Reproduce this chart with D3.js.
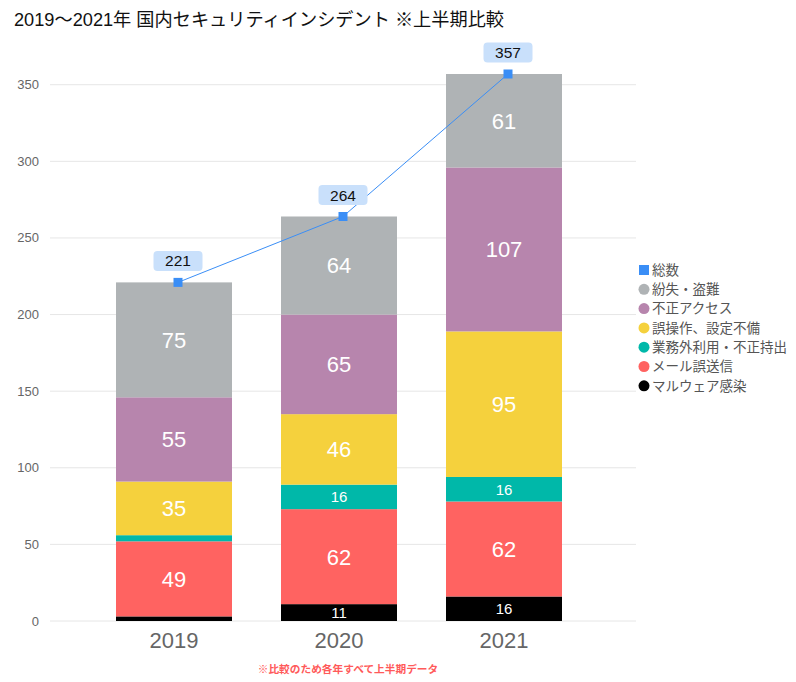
<!DOCTYPE html>
<html>
<head>
<meta charset="utf-8">
<script src="https://cdn.jsdelivr.net/npm/d3@7"></script>
<style>
  body { margin: 0; background: #fff; }
  svg { font-family: "Liberation Sans", Arial, "Noto Sans CJK JP", sans-serif; }
</style>
</head>
<body>
<div id="chart"></div>
<script>
// Data
const years = ['2019', '2020', '2021']
const seriesNames = ['マルウェア感染', 'メール誤送信', '業務外利用・不正持出', '誤操作、設定不備', '不正アクセス', '紛失・盗難']
const seriesColors = ['#000000', '#ff6361', '#00b8a9', '#f5d13d', '#b785ad', '#afb3b5']
const malware = [3, 11, 16]
const mailMisdelivery = [49, 62, 62]
const misuse = [4, 16, 16]
const misoperation = [35, 46, 95]
const unauthorized = [55, 65, 107]
const lossTheft = [75, 64, 61]
const totals = [221, 264, 357]
const yTicks = [0, 50, 100, 150, 200, 250, 300, 350]

const seriesValues = [malware, mailMisdelivery, misuse, misoperation, unauthorized, lossTheft]

// Dimensions
const dimensions = { width: 796, height: 682, left: 50, right: 636, top: 74, bottom: 621 }

const svg = d3.select('#chart')
  .append('svg')
  .attr('width', dimensions.width)
  .attr('height', dimensions.height)

// Title
svg.append('text')
  .attr('x', 14)
  .attr('y', 26)
  .attr('font-size', 18.2)
  .attr('fill', '#111')
  .text('2019～2021年 国内セキュリティインシデント ※上半期比較')

// Scales
const yScale = d3.scaleLinear()
  .domain([0, 357])
  .range([dimensions.bottom, dimensions.top])

const xScale = d3.scaleBand()
  .domain(years)
  .range([91.5, 586.5])
  .paddingInner(0.297)
  .paddingOuter(0.1485)

// Grid
const grid = svg.append('g')
grid.selectAll('line')
  .data(yTicks)
  .join('line')
  .attr('x1', dimensions.left)
  .attr('x2', dimensions.right)
  .attr('y1', d => yScale(d))
  .attr('y2', d => yScale(d))
  .attr('stroke', '#e6e6e6')
  .attr('stroke-width', 1)

grid.selectAll('text')
  .data(yTicks)
  .join('text')
  .attr('x', 39)
  .attr('y', d => yScale(d))
  .attr('dy', '0.35em')
  .attr('text-anchor', 'end')
  .attr('font-size', 13)
  .attr('fill', '#666')
  .text(d => d)

// Stack
const table = years.map((y, i) => {
  const row = { year: y }
  seriesNames.forEach((s, j) => { row[s] = seriesValues[j][i] })
  return row
})

const stackData = d3.stack().keys(seriesNames)(table)

const colorScale = d3.scaleOrdinal()
  .domain(seriesNames)
  .range(seriesColors)

const groups = svg.append('g')
  .selectAll('g')
  .data(stackData)
  .join('g')
  .attr('fill', d => colorScale(d.key))

groups.selectAll('rect')
  .data(d => d)
  .join('rect')
  .attr('x', d => xScale(d.data.year))
  .attr('y', d => yScale(d[1]))
  .attr('width', xScale.bandwidth())
  .attr('height', d => yScale(d[0]) - yScale(d[1]))

// Segment labels
groups.selectAll('text')
  .data(d => d)
  .join('text')
  .filter(d => yScale(d[0]) - yScale(d[1]) > 15)
  .attr('x', d => xScale(d.data.year) + xScale.bandwidth() / 2)
  .attr('y', d => (yScale(d[0]) + yScale(d[1])) / 2)
  .attr('dy', '0.36em')
  .attr('text-anchor', 'middle')
  .attr('fill', '#fff')
  .attr('font-size', d => (yScale(d[0]) - yScale(d[1]) > 40 ? 22 : 15))
  .text(d => d[1] - d[0])

// X axis labels
svg.append('g')
  .selectAll('text')
  .data(years)
  .join('text')
  .attr('x', d => xScale(d) + xScale.bandwidth() / 2)
  .attr('y', 648)
  .attr('text-anchor', 'middle')
  .attr('font-size', 22)
  .attr('fill', '#666')
  .text(d => d)

// Total line (points sit a little right of the bar centre, as in the original)
const cx = (d, i) => xScale(years[i]) + xScale.bandwidth() / 2 + 4
const line = d3.line()
  .x((d, i) => cx(d, i))
  .y(d => yScale(d))

svg.append('path')
  .datum(totals)
  .attr('d', line)
  .attr('fill', 'none')
  .attr('stroke', '#3a8ef6')
  .attr('stroke-width', 1)

svg.append('g')
  .selectAll('rect')
  .data(totals)
  .join('rect')
  .attr('x', (d, i) => cx(d, i) - 4.5)
  .attr('y', d => yScale(d) - 4.5)
  .attr('width', 9)
  .attr('height', 9)
  .attr('fill', '#3a8ef6')

const totalLabels = svg.append('g')
  .selectAll('g')
  .data(totals)
  .join('g')
  .attr('transform', (d, i) => `translate(${cx(d, i)}, ${yScale(d) - 21.5})`)

totalLabels.append('rect')
  .attr('x', -24.5)
  .attr('y', -10)
  .attr('width', 49)
  .attr('height', 20)
  .attr('rx', 4)
  .attr('fill', '#c9e0fb')

totalLabels.append('text')
  .attr('text-anchor', 'middle')
  .attr('dy', '0.36em')
  .attr('font-size', 15.5)
  .attr('fill', '#111')
  .text(d => d)

// Legend
const legendItems = [{ name: '総数', color: '#3a8ef6', square: true }]
  .concat(seriesNames.slice().reverse().map(s => ({ name: s, color: colorScale(s), square: false })))

const legend = svg.append('g')
  .selectAll('g')
  .data(legendItems)
  .join('g')
  .attr('transform', (d, i) => `translate(644, ${270 + i * 19.3})`)

legend.filter(d => d.square).append('rect')
  .attr('x', -5).attr('y', -5).attr('width', 10).attr('height', 10)
  .attr('fill', d => d.color)
legend.filter(d => !d.square).append('circle')
  .attr('r', 5.5)
  .attr('fill', d => d.color)
legend.append('text')
  .attr('x', 8)
  .attr('dy', '0.36em')
  .attr('font-size', 13.5)
  .attr('fill', '#555')
  .text(d => d.name)

// Footnote
svg.append('text')
  .attr('x', 348)
  .attr('y', 673)
  .attr('text-anchor', 'middle')
  .attr('font-size', 10.7)
  .attr('font-weight', 'bold')
  .attr('fill', '#ff5a5a')
  .text('※比較のため各年すべて上半期データ')
</script>
</body>
</html>
